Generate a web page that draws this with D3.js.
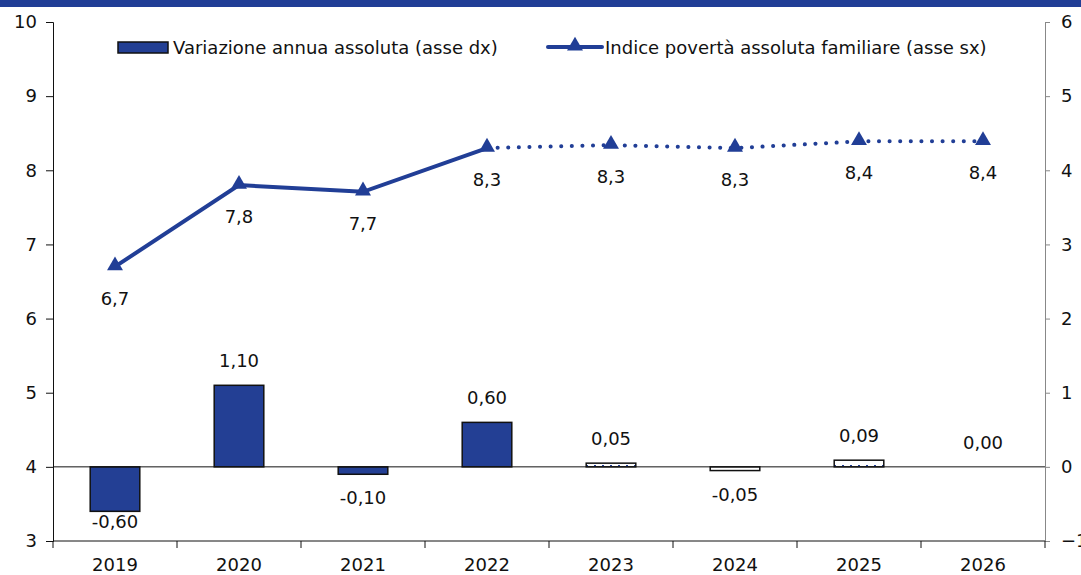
<!DOCTYPE html>
<html>
<head>
<meta charset="utf-8">
<script src="https://cdn.jsdelivr.net/npm/d3@7"></script>
<style>
  body { margin: 0; background: #fff; }
  svg text { font-family: "DejaVu Sans", Verdana, sans-serif; fill: #111; }
</style>
</head>
<body>
<div id="container"></div>
<script>
/* CONSTANTS AND GLOBALS */
const width = 1081,
  height = 575,
  margin = { top: 22, bottom: 34, left: 53, right: 36 };

const blue = "#213e96";
const fontSize = 18;

// data
const years = ["2019", "2020", "2021", "2022", "2023", "2024", "2025", "2026"];
const povertyIndex = [6.7, 7.8, 7.71, 8.3, 8.34, 8.3, 8.39, 8.39];
const povertyLabels = ["6,7", "7,8", "7,7", "8,3", "8,3", "8,3", "8,4", "8,4"];
const annualChange = [-0.6, 1.1, -0.1, 0.6, 0.05, -0.05, 0.09, 0.0];
const changeLabels = ["-0,60", "1,10", "-0,10", "0,60", "0,05", "-0,05", "0,09", "0,00"];
const forecastFrom = "2022"; // line dotted after this, bars hatched after this
const leftTicks = [3, 4, 5, 6, 7, 8, 9, 10];
const rightTicks = [-1, 0, 1, 2, 3, 4, 5, 6];

const svg = d3.select("#container")
  .append("svg")
  .attr("width", width)
  .attr("height", height);

// top strip
svg.append("rect")
  .attr("x", 0).attr("y", 0)
  .attr("width", width).attr("height", 7)
  .attr("fill", blue);

// dotted pattern for forecast bars
const defs = svg.append("defs");
const pat = defs.append("pattern")
  .attr("id", "dots")
  .attr("patternUnits", "userSpaceOnUse")
  .attr("width", 8).attr("height", 6);
pat.append("rect").attr("width", 8).attr("height", 6).attr("fill", "#fff");
pat.append("rect").attr("x", 2).attr("y", 3).attr("width", 2).attr("height", 1).attr("fill", blue);

// scales
const xScale = d3.scaleBand()
  .domain(years)
  .range([margin.left, width - margin.right]);

const yLeft = d3.scaleLinear()
  .domain([3, 10])
  .range([height - margin.bottom, margin.top]);

const yRight = d3.scaleLinear()
  .domain([-1, 6])
  .range([height - margin.bottom, margin.top]);

// axes
const leftAxis = d3.axisLeft(yLeft).tickValues(leftTicks).tickFormat(d3.format("d")).tickSize(7).tickPadding(9);
svg.append("g")
  .attr("transform", `translate(${margin.left},0)`)
  .call(leftAxis)
  .call(g => g.selectAll("path, line").attr("stroke", "#111"))
  .call(g => g.selectAll("text").attr("font-size", fontSize).attr("font-family", null));

const rightAxis = d3.axisRight(yRight).tickValues(rightTicks).tickFormat(d3.format("d")).tickSize(5).tickPadding(11);
svg.append("g")
  .attr("transform", `translate(${width - margin.right},0)`)
  .call(rightAxis)
  .call(g => g.selectAll("path, line").attr("stroke", "#888"))
  .call(g => g.selectAll("text").attr("font-size", fontSize).attr("font-family", null));

// bottom axis with ticks between categories
const xAxisG = svg.append("g")
  .attr("transform", `translate(0,${height - margin.bottom})`);
xAxisG.append("line")
  .attr("x1", margin.left).attr("x2", width - margin.right)
  .attr("stroke", "#111");
xAxisG.selectAll(".sep")
  .data(d3.range(years.length + 1))
  .join("line")
  .attr("x1", i => margin.left + i * xScale.step())
  .attr("x2", i => margin.left + i * xScale.step())
  .attr("y1", 0).attr("y2", 7)
  .attr("stroke", "#111");
xAxisG.selectAll(".lab")
  .data(years)
  .join("text")
  .attr("x", d => xScale(d) + xScale.bandwidth() / 2)
  .attr("y", 30)
  .attr("text-anchor", "middle")
  .attr("font-size", fontSize)
  .text(d => d);

// bars
const barW = xScale.bandwidth() * 0.4;
const bars = years.map((y, i) => ({ year: y, v: annualChange[i], label: changeLabels[i], fc: y > forecastFrom }));

svg.selectAll(".bar")
  .data(bars.filter(d => d.v !== 0))
  .join("rect")
  .attr("class", "bar")
  .attr("x", d => xScale(d.year) + (xScale.bandwidth() - barW) / 2)
  .attr("y", d => yRight(Math.max(0, d.v)))
  .attr("width", barW)
  .attr("height", d => Math.abs(yRight(d.v) - yRight(0)))
  .attr("fill", d => d.fc ? "url(#dots)" : "#233f94")
  .attr("stroke", "#111")
  .attr("stroke-width", 1.5);

// zero line
svg.append("line")
  .attr("x1", margin.left).attr("x2", width - margin.right)
  .attr("y1", yRight(0)).attr("y2", yRight(0))
  .attr("stroke", "#111");

const plotBottom = height - margin.bottom;
svg.selectAll(".barlab")
  .data(bars)
  .join("text")
  .attr("x", d => xScale(d.year) + xScale.bandwidth() / 2)
  .attr("y", d => d.v < 0 ? Math.min(yRight(d.v) + 30, plotBottom - 13) : yRight(d.v) - 18)
  .attr("text-anchor", "middle")
  .attr("font-size", fontSize)
  .text(d => d.label);

// line
const pts = years.map((y, i) => ({ year: y, v: povertyIndex[i], label: povertyLabels[i] }));
const lineGen = d3.line()
  .x(d => xScale(d.year) + xScale.bandwidth() / 2)
  .y(d => yLeft(d.v));

svg.append("path")
  .datum(pts.filter(d => d.year <= forecastFrom))
  .attr("fill", "none")
  .attr("stroke", blue)
  .attr("stroke-width", 4)
  .attr("d", lineGen);

svg.append("path")
  .datum(pts.filter(d => d.year >= forecastFrom))
  .attr("fill", "none")
  .attr("stroke", blue)
  .attr("stroke-width", 4)
  .attr("stroke-linecap", "round")
  .attr("stroke-dasharray", "0.1 10.5")
  .attr("d", lineGen);

const tri = d3.symbol().type(d3.symbolTriangle).size(110);
svg.selectAll(".mark")
  .data(pts)
  .join("path")
  .attr("transform", d => `translate(${xScale(d.year) + xScale.bandwidth() / 2},${yLeft(d.v) - 1})`)
  .attr("d", tri)
  .attr("fill", blue);

svg.selectAll(".linelab")
  .data(pts)
  .join("text")
  .attr("x", d => xScale(d.year) + xScale.bandwidth() / 2)
  .attr("y", d => yLeft(d.v) + 38)
  .attr("text-anchor", "middle")
  .attr("font-size", fontSize)
  .text(d => d.label);

// legend
const leg = svg.append("g");
leg.append("rect")
  .attr("x", 118).attr("y", 42)
  .attr("width", 50).attr("height", 11)
  .attr("fill", "#233f94")
  .attr("stroke", "#111")
  .attr("stroke-width", 1.5);
leg.append("text")
  .attr("x", 173).attr("y", 54)
  .attr("font-size", fontSize)
  .text("Variazione annua assoluta (asse dx)");
leg.append("line")
  .attr("x1", 548).attr("x2", 602)
  .attr("y1", 47).attr("y2", 47)
  .attr("stroke", blue)
  .attr("stroke-width", 4)
  .attr("stroke-linecap", "round");
leg.append("path")
  .attr("transform", "translate(575,46)")
  .attr("d", tri)
  .attr("fill", blue);
leg.append("text")
  .attr("x", 605).attr("y", 54)
  .attr("font-size", fontSize)
  .text("Indice povertà assoluta familiare (asse sx)");
</script>
</body>
</html>
